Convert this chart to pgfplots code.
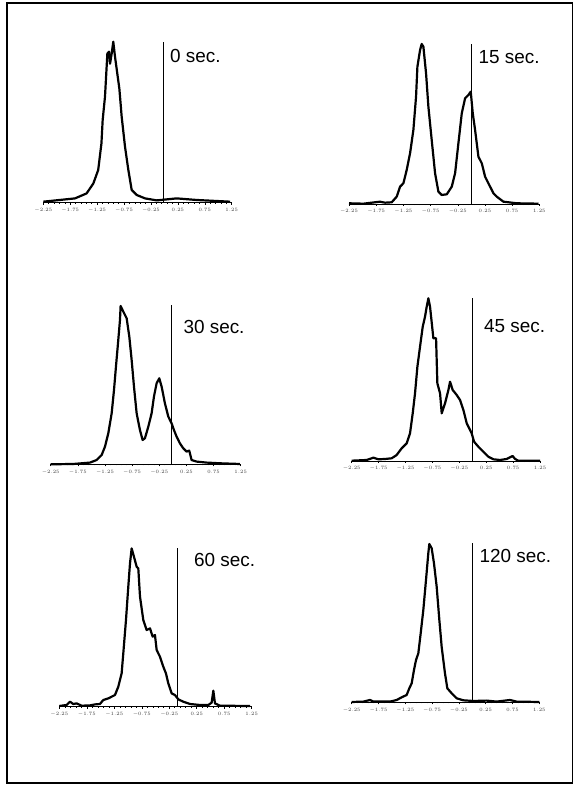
\documentclass[border=0pt]{standalone}
\usepackage{pgfplots}
\pgfplotsset{compat=1.18}
\usepackage{fontspec}
\setmainfont{Liberation Sans}

\pgfplotsset{
  panel/.style={
    scale only axis,
    anchor=south west,
    axis x line=bottom, axis y line=none,
    axis line style={-, line width=0.8bp},
    xmin=-2.25, xmax=1.25, ymin=0,
    xtick={-2.25,-1.75,-1.25,-0.75,-0.25,0.25,0.75,1.25},
    minor x tick num=4,
    tick align=outside,
    major tick length=2bp, minor tick length=1.2bp,
    every tick/.style={black, line width=0.5bp},
    xticklabel style={font=\fontsize{3.8}{4}\selectfont, text=black!75},
    /pgf/number format/.cd, fixed, fixed zerofill, precision=2,
    /pgfplots/.cd,
    clip=false,
  },
  curve/.style={black, line width=2.2bp, line join=round},
  marker/.style={black, line width=0.8bp},
}

\begin{document}
\begin{tikzpicture}[x=1bp, y=1bp]
\fill[white] (0,0) rectangle (574,786);
\draw[line width=1.6bp] (7,783) rectangle (572.5,3);

% 0 sec.
\begin{axis}[panel, at={(43.3bp,583.3bp)}, width=188.4bp, height=161bp, ymax=161]
\addplot[curve] coordinates {
(-2.25,1) (-1.66,4.3) (-1.445,9.3) (-1.32,19.3) (-1.23,32.7) (-1.17,59.3)
(-1.147,82.7) (-1.104,106) (-1.06,149) (-1.03,151) (-1.01,139) (-0.98,149)
(-0.95,161) (-0.918,146) (-0.875,129) (-0.837,114) (-0.794,86) (-0.732,56)
(-0.67,32.7) (-0.608,12.7) (-0.515,7.7) (-0.36,4.3) (-0.143,2.3) (0.228,4.3)
(0.6,2.7) (1.22,1)
};
\addplot[marker] coordinates {(-0.02,0) (-0.02,161)};
\end{axis}
\node[anchor=base west, font=\fontsize{19}{22}\selectfont, inner sep=0] at (170,723.3) {0 sec.};

% 15 sec.
\begin{axis}[panel, at={(349bp,582bp)}, width=190.3bp, height=160bp, ymax=160]
\addplot[curve] coordinates {
(-2.25,0.7) (-1.986,0.3) (-1.68,2.3) (-1.587,1.3) (-1.465,1.7) (-1.373,7.3)
(-1.311,17.3) (-1.25,20.7) (-1.189,34) (-1.127,50.7) (-1.066,74) (-1.017,107.3)
(-0.992,137.3) (-0.943,154) (-0.913,160) (-0.882,157.3) (-0.833,130.7)
(-0.79,97.3) (-0.729,64) (-0.667,30.7) (-0.606,12.3) (-0.545,9) (-0.452,9.7)
(-0.36,17.3) (-0.299,30.7) (-0.238,60.7) (-0.176,90.7) (-0.115,105.7)
(-0.054,109) (-0.011,112.3) (0.026,90.7) (0.069,74) (0.13,47.3) (0.192,40.7)
(0.253,27.3) (0.345,17.3) (0.407,10.7) (0.468,7.3) (0.59,2.3) (0.836,0.7)
(1.235,0.3)
};
\addplot[marker] coordinates {(0,0) (0,160)};
\end{axis}
\node[anchor=base west, font=\fontsize{19}{22}\selectfont, inner sep=0] at (478.3,722.7) {15 sec.};

% 30 sec.
\begin{axis}[panel, at={(50.7bp,321.7bp)}, width=190bp, height=159.3bp, ymax=159.3]
\addplot[curve] coordinates {
(-2.25,0) (-1.833,0.3) (-1.526,1.7) (-1.403,4.3) (-1.311,9.3) (-1.25,17.7)
(-1.189,31) (-1.127,51) (-1.084,74.3) (-1.048,97.7) (-1.005,124.3)
(-0.974,144.3) (-0.962,158.3) (-0.913,152.7) (-0.851,146) (-0.802,127.7)
(-0.759,104.3) (-0.716,77.7) (-0.667,51) (-0.606,34.3) (-0.557,24.3)
(-0.514,26) (-0.452,37.7) (-0.391,51) (-0.348,67.7) (-0.299,81) (-0.25,86)
(-0.207,77.7) (-0.146,61) (-0.084,47.7) (-0.023,41) (0.02,34.3) (0.069,27.7)
(0.13,21) (0.192,16) (0.253,12.7) (0.302,13.7) (0.345,4.3) (0.437,2.7)
(0.621,1.7) (0.867,1) (1.235,0.3)
};
\addplot[marker] coordinates {(-0.02,0) (-0.02,159.3)};
\end{axis}
\node[anchor=base west, font=\fontsize{19}{22}\selectfont, inner sep=0] at (183.3,452.7) {30 sec.};

% 45 sec.
\begin{axis}[panel, at={(351.7bp,325bp)}, width=188.3bp, height=162.7bp, ymax=162.7]
\addplot[curve] coordinates {
(-2.25,0.3) (-1.971,1) (-1.847,3.3) (-1.754,1.7) (-1.63,2) (-1.507,2.7)
(-1.414,6) (-1.321,12.7) (-1.228,17.7) (-1.166,27.7) (-1.116,47.7)
(-1.073,67.7) (-1.029,94.3) (-0.98,114.3) (-0.93,134.3) (-0.887,144.3)
(-0.856,154.3) (-0.825,162.7) (-0.794,154.3) (-0.732,122.7) (-0.682,122.7)
(-0.658,77.7) (-0.608,67.7) (-0.577,47.7) (-0.515,57.7) (-0.453,71)
(-0.422,79.3) (-0.373,71) (-0.298,66) (-0.236,61) (-0.174,51) (-0.112,37.7)
(-0.02,27.7) (0.024,19.3) (0.104,14.3) (0.197,9.3) (0.29,4.3) (0.383,1.7)
(0.507,1) (0.631,2) (0.742,5) (0.786,2) (0.848,0.3) (1.25,0.3)
};
\addplot[marker] coordinates {(0,0) (0,162.7)};
\end{axis}
\node[anchor=base west, font=\fontsize{19}{22}\selectfont, inner sep=0] at (484,453.3) {45 sec.};

% 60 sec.
\begin{axis}[panel, at={(59.3bp,79.3bp)}, width=192.4bp, height=158.3bp, ymax=158.3]
\addplot[curve] coordinates {
(-2.25,0.7) (-2.117,1.7) (-2.056,5) (-1.995,2.7) (-1.935,3.3) (-1.844,1)
(-1.692,1.3) (-1.601,2.3) (-1.51,2.7) (-1.45,6.7) (-1.359,8.3) (-1.237,11.7)
(-1.177,20) (-1.116,33.3) (-1.086,53.3) (-1.037,86.7) (-0.995,120)
(-0.964,143.3) (-0.934,158.3) (-0.892,150) (-0.843,140) (-0.813,138.3)
(-0.782,110) (-0.722,86.7) (-0.661,76.7) (-0.6,78.3) (-0.552,70) (-0.51,71.7)
(-0.479,56.7) (-0.419,50) (-0.358,40) (-0.31,33.3) (-0.267,23.3) (-0.206,13.3)
(-0.146,11.7) (-0.085,7.3) (0.006,5) (0.127,2.7) (0.309,1.7) (0.461,1.7)
(0.521,4) (0.552,16) (0.582,3.3) (0.673,1) (1.219,0.7)
};
\addplot[marker] coordinates {(-0.1,0) (-0.1,158.3)};
\end{axis}
\node[anchor=base west, font=\fontsize{19}{22}\selectfont, inner sep=0] at (194,219.3) {60 sec.};

% 120 sec.
\begin{axis}[panel, at={(351.7bp,83.7bp)}, width=187.6bp, height=159bp, ymax=159]
\addplot[curve] coordinates {
(-2.25,0.3) (-2.032,0.7) (-1.908,2.3) (-1.846,0.7) (-1.535,0.7) (-1.411,2.3)
(-1.318,5) (-1.225,7.3) (-1.175,14) (-1.131,19) (-1.088,32.3) (-1.05,42.3)
(-1.007,49) (-0.963,69) (-0.914,92.3) (-0.864,122.3) (-0.821,149)
(-0.802,158.3) (-0.758,154) (-0.715,139) (-0.665,115.7) (-0.615,82.3)
(-0.572,55.7) (-0.51,29) (-0.466,14) (-0.385,9) (-0.292,4) (-0.168,2)
(0.019,1.3) (0.267,1.7) (0.454,0.7) (0.702,2.3) (0.826,0.7) (1.249,0.3)
};
\addplot[marker] coordinates {(0,0) (0,159)};
\end{axis}
\node[anchor=base west, font=\fontsize{19}{22}\selectfont, inner sep=0] at (479.3,223.3) {120 sec.};
\end{tikzpicture}
\end{document}
